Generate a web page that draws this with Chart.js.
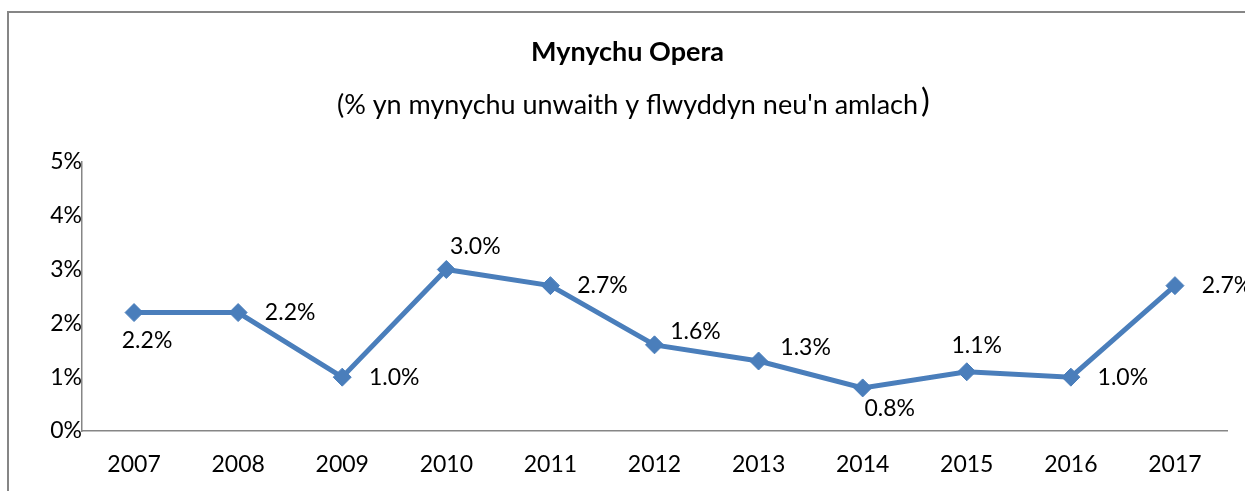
<!DOCTYPE html>
<html>
<head>
<meta charset="utf-8">
<script src="https://cdn.jsdelivr.net/npm/chart.js@4"></script>
<style>
  html, body { margin: 0; padding: 0; background: #fff; }
  #wrap { width: 1245px; height: 491px; }
</style>
</head>
<body>
<div id="wrap"><canvas id="myChart" width="1245" height="491"></canvas></div>
<script>
// data
var years = ['2007', '2008', '2009', '2010', '2011', '2012', '2013', '2014', '2015', '2016', '2017']
var attendance = [2.2, 2.2, 1.0, 3.0, 2.7, 1.6, 1.3, 0.8, 1.1, 1.0, 2.7]
var yTicks = [0, 1, 2, 3, 4, 5]

var FONT = 'Lato'
var SUBTITLE = "(% yn mynychu unwaith y flwyddyn neu'n amlach"

// where each value label sits relative to its marker (dx, dy)
var labelOffsets = [[13, 28], [52, 0], [52, 0], [29, -23], [52, 0], [41, -13],
    [47, -13], [27, 21], [10, -26], [52, 0], [52, 0]]

// outer frame, like the excel chart border
var framePlugin = {
    id: 'frame',
    beforeDraw: function (chart) {
        var ctx = chart.ctx
        ctx.save()
        ctx.strokeStyle = '#868686'
        ctx.lineWidth = 2
        ctx.strokeRect(8, 12, 1400, 700)
        ctx.restore()
    }
}

// the closing bracket of the subtitle is bigger in the original
var bigParen = {
    id: 'bigParen',
    afterDraw: function (chart) {
        var ctx = chart.ctx
        var pad = chart.options.layout.padding
        var cx = (pad.left + chart.width - pad.right) / 2
        ctx.save()
        ctx.font = '27px ' + FONT
        var w = ctx.measureText(SUBTITLE).width
        ctx.font = '33px ' + FONT
        ctx.fillStyle = '#000'
        ctx.textAlign = 'left'
        ctx.textBaseline = 'middle'
        ctx.fillText(')', cx + w / 2 + 3, 101)
        ctx.restore()
    }
}

var valueLabels = {
    id: 'valueLabels',
    afterDatasetsDraw: function (chart) {
        var ctx = chart.ctx
        var meta = chart.getDatasetMeta(0)
        ctx.save()
        ctx.font = '23px ' + FONT
        ctx.fillStyle = '#000'
        ctx.textAlign = 'center'
        ctx.textBaseline = 'middle'
        meta.data.forEach(function (pt, i) {
            var off = labelOffsets[i]
            ctx.fillText(attendance[i].toFixed(1) + '%', pt.x + off[0], pt.y + off[1])
        })
        ctx.restore()
    }
}

var data = {
    labels: years,
    datasets: [{
        label: 'Mynychu Opera',
        data: attendance,
        borderColor: '#4a7ebb',
        backgroundColor: '#4a7ebb',
        borderWidth: 5,
        pointStyle: 'rectRot',
        pointRadius: 9,
        pointHoverRadius: 9,
        pointBackgroundColor: '#4a7ebb',
        pointBorderColor: '#4a7ebb',
        pointBorderWidth: 1,
        tension: 0
    }]
}

var options = {
    responsive: false,
    animation: false,
    layout: {
        padding: { left: 28, right: 18, top: 0, bottom: 0 }
    },
    scales: {
        x: {
            offset: true,
            grid: { display: false, drawTicks: false },
            border: { display: true, color: '#868686', width: 1.5 },
            ticks: {
                color: '#000',
                font: { family: FONT, size: 23 },
                padding: 20,
                maxRotation: 0,
                autoSkip: false
            },
            afterFit: function (scale) { scale.height = 60 }
        },
        y: {
            min: 0,
            max: 5,
            grid: { display: false, drawTicks: false },
            border: { display: true, color: '#868686', width: 1.5 },
            afterBuildTicks: function (scale) {
                scale.ticks = yTicks.map(function (v) { return { value: v } })
            },
            ticks: {
                color: '#000',
                font: { family: FONT, size: 23 },
                padding: 0,
                crossAlign: 'center',
                callback: function (value) { return value + '%' }
            },
            afterFit: function (scale) { scale.width = 54 }
        }
    },
    plugins: {
        legend: { display: false },
        tooltip: { enabled: false },
        title: {
            display: true,
            text: 'Mynychu Opera',
            color: '#000',
            font: { family: FONT, size: 27, weight: 'bold', lineHeight: 1.2 },
            padding: { top: 36, bottom: 0 }
        },
        subtitle: {
            display: true,
            text: SUBTITLE,
            color: '#000',
            font: { family: FONT, size: 27, lineHeight: 1.2 },
            padding: { top: 21, bottom: 40 }
        }
    }
}

var ctx = document.getElementById('myChart').getContext('2d')
var myChart = new Chart(ctx, {
    type: 'line',
    data: data,
    options: options,
    plugins: [framePlugin, valueLabels, bigParen]
})
</script>
</body>
</html>
